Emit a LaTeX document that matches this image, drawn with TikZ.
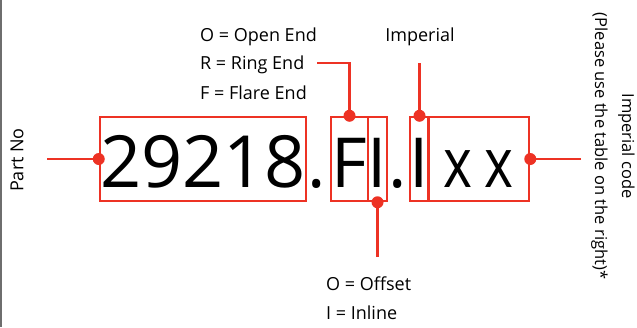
\documentclass[tikz,border=0pt]{standalone}
\usepackage{fontspec}
\setmainfont{Open Sans}
\newfontfamily\narrowfont[FakeStretch=0.8]{Open Sans}
\usetikzlibrary{positioning}

\definecolor{markred}{RGB}{237,50,36}
\definecolor{edgegray}{RGB}{110,110,110}

\begin{document}
\begin{tikzpicture}[x=1pt, y=-1pt,
    lbl/.style={font=\fontsize{18}{22}\selectfont, inner sep=0pt},
    bigtxt/.style={font=\fontsize{69}{69}\selectfont, inner sep=0pt},
    codebox/.style={draw=markred, line width=2.5pt, minimum height=84pt,
                    inner sep=0pt, text height=57pt, text depth=0pt,
                    font=\fontsize{69}{69}\selectfont},
    lead/.style={markred, line width=2.5pt}]

\useasboundingbox (0,0) rectangle (637,327);
\draw[edgegray, line width=1.5pt] (0.75,0) -- (0.75,327);

% the code itself
\node[codebox, minimum width=206pt, font=\fontsize{72}{72}\selectfont]
    (partbox) at (203,159) {29218};
\node[bigtxt, anchor=base] (sep1) at (317,187.5) {.};
\node[codebox, minimum width=37pt] (fbox)  at (349.5,159) {F};
\node[codebox, minimum width=19pt] (ibox)  at (377.5,159) {I};
\node[bigtxt, anchor=base] (sep2) at (398,187.5) {.};
\node[codebox, minimum width=17pt] (ibox2) at (419.5,159) {I};
\node[codebox, minimum width=101pt] (xxbox) at (478.5,159)
    {\narrowfont x\hspace{13pt}x\hspace{8pt}};

% labels
\node[lbl, anchor=base west] (openend)  at (200,41)   {O = Open End};
\node[lbl, anchor=base west] (ringend)  at (200,69.5) {R = Ring End};
\node[lbl, anchor=base west] (flareend) at (200,99)   {F = Flare End};
\node[lbl, anchor=base] (imperial) at (420,41) {Imperial};
\node[lbl, anchor=base west] (offset) at (326,290)   {O = Offset};
\node[lbl, anchor=base west] (inline) at (326,319.5) {I = Inline};
\node[lbl, rotate=90] (partno) at (17,160) {Part No};
\node[font=\fontsize{16.5}{27}\selectfont, align=center, rotate=-90,
      inner sep=0pt] (impcode) at (613,146)
    {Imperial code\\(Please use the table on the right)*};

% leaders
\coordinate (ringtip) at (317,63);
\coordinate (imptip)  at (ibox2.north |- 0,63);
\coordinate (inltip)  at (ibox.south |- 0,257);
\coordinate (parttip) at (partbox.west -| 47,0);
\coordinate (codetip) at (xxbox.east -| 581,0);

\draw[lead] (ringtip) -| (fbox.north);
\draw[lead] (imptip)  -- (ibox2.north);
\draw[lead] (inltip)  -- (ibox.south);
\draw[lead] (parttip) -- (partbox.west);
\draw[lead] (codetip) -- (xxbox.east);

\foreach \p in {partbox.west, fbox.north, ibox.south, ibox2.north, xxbox.east}
    \fill[markred] (\p) circle (6pt);

\end{tikzpicture}
\end{document}
